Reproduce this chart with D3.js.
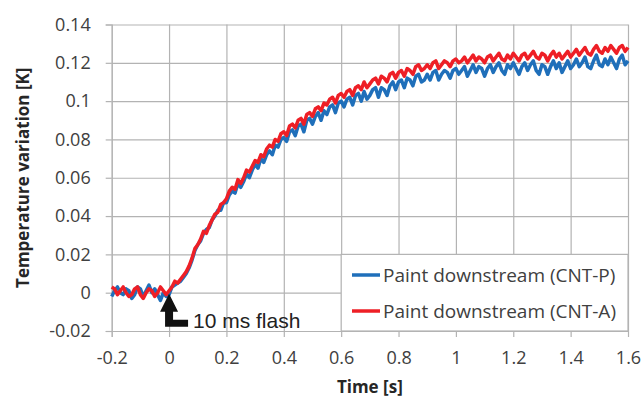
<!DOCTYPE html>
<html>
<head>
<meta charset="utf-8">
<script src="https://cdn.jsdelivr.net/npm/d3@7"></script>
<style>
  body { margin: 0; background: #fff; }
  text { font-family: "Open Sans", sans-serif; }
</style>
</head>
<body>
<div id="chart"></div>
<script>
const width = 644;
const height = 399;
const margin = {top: 24.5, right: 16, bottom: 68, left: 111.7};

// sampling times: -0.2 s to 1.6 s every 10 ms
const times = d3.range(0, 181).map(i => -0.2 + i * 0.01);

// Paint downstream (CNT-P), mK
const cntP_mK = [
  -2, 1, 3, 0, -1, 2, 1, -3, -1, 3, 2, -2, 1, 4, 0, 2, -1, -4, 0, -2,
  -1, 3, 4, 5, 6, 8, 10, 13, 17, 22, 25, 27, 31, 33, 34, 38, 40, 43, 43, 47,
  47, 51, 53, 52, 57, 55, 58, 62, 60, 64, 67, 65, 70, 68, 72, 74, 72, 77, 76, 80,
  81, 79, 84, 85, 82, 87, 88, 84, 90, 91, 88, 92, 94, 90, 95, 93, 97, 98, 94, 99,
  100, 97, 101, 102, 98, 103, 104, 100, 105, 101, 103, 106, 107, 102, 107, 106, 103, 108, 110, 106,
  110, 111, 107, 112, 111, 108, 113, 114, 110, 111, 114, 111, 115, 116, 111, 114, 116, 115, 112, 116,
  117, 114, 116, 118, 113, 116, 119, 115, 118, 117, 113, 117, 119, 115, 118, 120, 116, 114, 119, 117,
  120, 117, 114, 118, 120, 116, 119, 121, 116, 114, 119, 118, 114, 118, 121, 117, 120, 115, 118, 121,
  117, 119, 122, 118, 120, 123, 118, 117, 121, 124, 119, 118, 122, 119, 123, 120, 117, 122, 124, 119,
  121
];

// Paint downstream (CNT-A), mK
const cntA_mK = [
  3, 2, -1, 1, 3, 0, -2, -1, 2, 3, -1, -3, 0, 2, 1, -2, 0, 3, 1, -1,
  1, 3, 6, 5, 7, 9, 11, 14, 18, 23, 25, 28, 32, 31, 35, 38, 41, 42, 46, 47,
  49, 53, 55, 54, 59, 57, 60, 64, 63, 66, 69, 68, 72, 71, 75, 77, 76, 80, 79, 83,
  84, 82, 87, 88, 86, 90, 91, 88, 93, 94, 92, 96, 97, 95, 99, 98, 101, 102, 99, 103,
  104, 102, 105, 106, 103, 107, 108, 106, 110, 107, 109, 111, 112, 109, 113, 112, 110, 114, 115, 112,
  115, 116, 113, 117, 116, 114, 118, 119, 116, 117, 119, 117, 120, 121, 117, 119, 121, 120, 118, 121,
  122, 120, 121, 123, 120, 122, 124, 121, 123, 122, 120, 123, 124, 121, 123, 125, 122, 121, 124, 122,
  125, 123, 121, 124, 125, 122, 124, 126, 123, 122, 125, 124, 121, 124, 126, 123, 125, 122, 124, 126,
  123, 125, 127, 124, 126, 128, 125, 124, 127, 129, 126, 125, 128, 126, 129, 127, 125, 128, 129, 126,
  128
];

const xTicks = [-0.2, 0, 0.2, 0.4, 0.6, 0.8, 1, 1.2, 1.4, 1.6];
const yTicks = [-0.02, 0, 0.02, 0.04, 0.06, 0.08, 0.1, 0.12, 0.14];
const seriesNames = ["Paint downstream (CNT-P)", "Paint downstream (CNT-A)"];
const seriesColors = ["#1f6fba", "#ee1f26"];

const gridColor = "#b3b3b3";
const labelColor = "#404040";

const svg = d3.select("#chart").append("svg")
              .attr("width", width)
              .attr("height", height);

const x = d3.scaleLinear().domain([-0.2, 1.6]).range([margin.left, width - margin.right]);
const y = d3.scaleLinear().domain([-0.02, 0.14]).range([height - margin.bottom, margin.top]);

// grid
svg.append("g").attr("transform", `translate(${margin.left},0)`)
  .call(d3.axisLeft(y).tickValues(yTicks).tickSize(-(width - margin.right - margin.left)).tickFormat(""))
  .call(g => g.select(".domain").remove())
  .call(g => g.selectAll("line").attr("stroke", gridColor).attr("stroke-width", 1.2));

svg.append("g").attr("transform", `translate(0,${margin.top})`)
  .call(d3.axisBottom(x).tickValues(xTicks).tickSize(height - margin.bottom - margin.top).tickFormat(""))
  .call(g => g.select(".domain").remove())
  .call(g => g.selectAll("line").attr("stroke", gridColor).attr("stroke-width", 1.2));

// axes with outside ticks + labels
svg.append("g").attr("transform", `translate(${margin.left},0)`)
  .call(d3.axisLeft(y).tickValues(yTicks).tickSize(6).tickPadding(15).tickFormat(d => String(+d.toFixed(2))))
  .call(g => g.select(".domain").attr("stroke", gridColor))
  .call(g => g.selectAll("line").attr("stroke", gridColor).attr("stroke-width", 1.2))
  .call(g => g.selectAll("text").attr("fill", labelColor).style("font-size", "18px").style("font-family", "'Open Sans', sans-serif"));

svg.append("g").attr("transform", `translate(0,${height - margin.bottom})`)
  .call(d3.axisBottom(x).tickValues(xTicks).tickSize(6).tickPadding(14).tickFormat(d => String(+d.toFixed(1))))
  .call(g => g.select(".domain").attr("stroke", gridColor))
  .call(g => g.selectAll("line").attr("stroke", gridColor).attr("stroke-width", 1.2))
  .call(g => g.selectAll("text").attr("fill", labelColor).style("font-size", "18px").style("font-family", "'Open Sans', sans-serif"));

// series (mK -> K)
const line = d3.line().x((d, i) => x(times[i])).y(d => y(d / 1000));
[cntP_mK, cntA_mK].forEach((vals, k) => {
  svg.append("path")
    .datum(vals)
    .attr("fill", "none")
    .attr("stroke", seriesColors[k])
    .attr("stroke-width", 3.5)
    .attr("stroke-linejoin", "round")
    .attr("d", line);
});

// legend
svg.append("rect")
  .attr("x", x(0.6))
  .attr("y", y(0.02))
  .attr("width", x(1.6) - x(0.6))
  .attr("height", y(-0.02) - y(0.02))
  .attr("fill", "white")
  .attr("stroke", gridColor)
  .attr("stroke-width", 1.2);

seriesNames.forEach((name, k) => {
  const ly = 275 + k * 36;
  svg.append("line")
    .attr("x1", 352).attr("x2", 380)
    .attr("y1", ly).attr("y2", ly)
    .attr("stroke", seriesColors[k])
    .attr("stroke-width", 3.5);
  svg.append("text")
    .attr("x", 383)
    .attr("y", ly + 7)
    .attr("fill", labelColor)
    .style("font-size", "19px")
    .text(name);
});

// flash annotation
const ax = x(0), ay = y(0) + 1;
svg.append("path")
  .attr("d", `M${ax},${ay} L${ax + 9},${ay + 18} L${ax + 4},${ay + 18} L${ax + 4},${ay + 26} L${ax + 19},${ay + 26} L${ax + 19},${ay + 33} L${ax - 4},${ay + 33} L${ax - 4},${ay + 18} L${ax - 9},${ay + 18} Z`)
  .attr("fill", "#111");

svg.append("text")
  .attr("x", 193)
  .attr("y", 328)
  .attr("fill", "#222")
  .style("font-family", "'Liberation Sans', Arial, sans-serif")
  .style("font-size", "21px")
  .text("10 ms flash");

// axis titles
svg.append("text")
  .attr("transform", `translate(29,${(margin.top + height - margin.bottom) / 2}) rotate(-90)`)
  .attr("text-anchor", "middle")
  .attr("fill", "#262626")
  .style("font-size", "17px")
  .style("font-weight", "bold")
  .text("Temperature variation [K]");

svg.append("text")
  .attr("x", (margin.left + width - margin.right) / 2)
  .attr("y", 393)
  .attr("text-anchor", "middle")
  .attr("fill", "#262626")
  .style("font-size", "17px")
  .style("font-weight", "bold")
  .text("Time [s]");
</script>
</body>
</html>
